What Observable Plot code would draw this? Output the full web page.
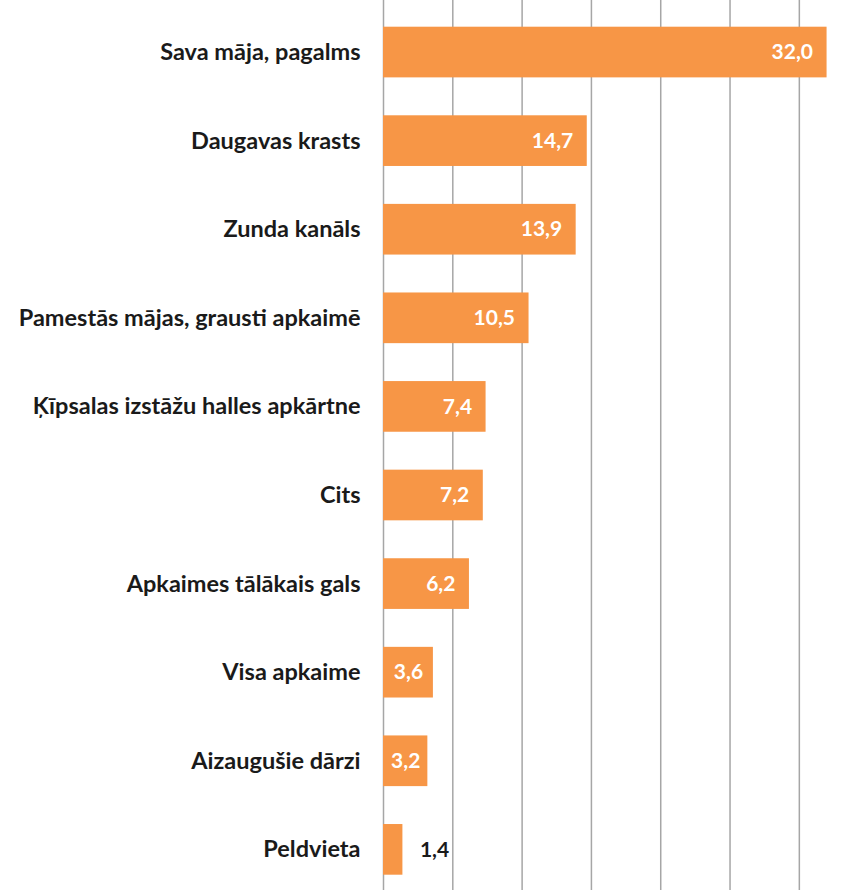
<!DOCTYPE html>
<html>
<head>
<meta charset="utf-8">
<script src="https://cdn.jsdelivr.net/npm/d3@7"></script>
<script src="https://cdn.jsdelivr.net/npm/@observablehq/plot@0.6"></script>
<style>
  html, body { margin: 0; padding: 0; background: #fff; }
</style>
</head>
<body>
<div id="chart"></div>
<script>
const categories = [
  "Sava māja, pagalms",
  "Daugavas krasts",
  "Zunda kanāls",
  "Pamestās mājas, grausti apkaimē",
  "Ķīpsalas izstāžu halles apkārtne",
  "Cits",
  "Apkaimes tālākais gals",
  "Visa apkaime",
  "Aizaugušie dārzi",
  "Peldvieta"
];
const values = [32.0, 14.7, 13.9, 10.5, 7.4, 7.2, 6.2, 3.6, 3.2, 1.4];
const gridTicks = [0, 5, 10, 15, 20, 25, 30];

const fmt = v => v.toFixed(1).replace(".", ",");
const data = categories.map((c, i) => ({category: c, value: values[i], label: fmt(values[i])}));

const chart = Plot.plot({
  width: 859,
  height: 890,
  marginLeft: 383,
  marginRight: 0,
  marginTop: 0,
  marginBottom: 0,
  style: {fontFamily: "Lato, 'Open Sans', sans-serif", background: "#fff"},
  x: {domain: [0, 34.34], axis: null},
  y: {domain: categories, range: [26.7, 874.7], paddingInner: 0.428, paddingOuter: 0, round: false, axis: null},
  marks: [
    Plot.ruleX(gridTicks, {x: d => d, stroke: "#a6a6a6", strokeWidth: 1.5}),
    Plot.barX(data, {x: "value", y: "category", fill: "#F79646"}),
    Plot.text(data.filter(d => d.value >= 5), {
      x: "value", y: "category", text: "label", textAnchor: "end", dx: -14,
      fill: "white", fontSize: 21, fontWeight: "bold"
    }),
    Plot.text(data.filter(d => d.value >= 2 && d.value < 5), {
      x: d => d.value / 2, y: "category", text: "label", textAnchor: "middle",
      fill: "white", fontSize: 21, fontWeight: "bold"
    }),
    Plot.text(data.filter(d => d.value < 2), {
      x: "value", y: "category", text: "label", textAnchor: "start", dx: 17,
      fill: "#1a1a1a", fontSize: 21, fontWeight: "bold"
    }),
    Plot.text(data, {
      x: 0, y: "category", text: "category", textAnchor: "end", dx: -23,
      fill: "#1a1a1a", fontSize: 23.5, fontWeight: "bold"
    })
  ]
});
document.getElementById("chart").appendChild(chart);
</script>
</body>
</html>
